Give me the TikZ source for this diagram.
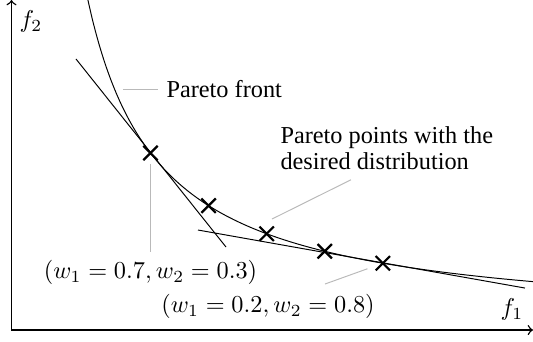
\documentclass[tikz,border=0pt]{standalone}
\usepackage[no-math]{fontspec}
\setmainfont{Liberation Serif}
\usetikzlibrary{calc}
\usetikzlibrary{shapes,arrows}

\begin{document}
\begin{tikzpicture}
	\tikzstyle{paretopt} = [cross out, draw, minimum size=5pt, inner sep=0pt, line width=0.9pt];
	\tikzstyle{leader} = [draw=gray!55, thin];
	
	\useasboundingbox (-0.166,-0.159) rectangle (7.541,4.772);
	
	\coordinate (O) at (0,0);
	\coordinate (xend) at (7.541,0);
	\coordinate (yend) at (0,4.772);
	\draw[->, semithick] (O) -- (xend);
	\draw[->, semithick] (O) -- (yend);
	\node (f1) at (7.237,0.296) {$f_1$};
	\node (f2) at (0.282,4.461) {$f_2$};
	
	% front and the weighted-sum points on it
	\draw[domain=1.105:7.541, samples=120, smooth] plot (\x, {4.843/(\x-0.0795)+0.0506});
	\foreach \i/\x in {1/2.01, 2/2.85, 3/3.69, 4/4.53, 5/5.37}
		\node[paretopt] (c\i) at (\x, {4.843/(\x-0.0795)+0.0506}) {};
	
	\draw (0.933,3.919) -- (3.102,1.200);
	\draw (2.697,1.446) -- (7.425,0.607);
	
	\node[anchor=west] (front) at (2.118,3.485) {Pareto front};
	\coordinate (fr) at (1.612,3.485);
	\draw[leader] (fr) -- (front.west);
	
	\node[anchor=base west, align=left, inner sep=0pt, font=\fontsize{10}{10.7}\selectfont] (pts) at (3.883,2.328) {Pareto points with the\\desired distribution};
	\coordinate (pp) at (3.767,1.605);
	\draw[leader] ($(pts.south west)+(1.026,-0.145)$) -- (pp);
	
	\node[anchor=north] (w7) at (2.01,1.128) {$(w_1=0.7, w_2=0.3)$};
	\draw[leader, shorten <=1.5pt] (c1.south) -- (w7.north);
	
	\node[anchor=north] (w2) at (3.709,0.636) {$(w_1=0.2, w_2=0.8)$};
	\draw[leader, shorten >=3.6pt] ($(w2.north)+(0.824,0.029)$) -- (c5);
\end{tikzpicture}
\end{document}
